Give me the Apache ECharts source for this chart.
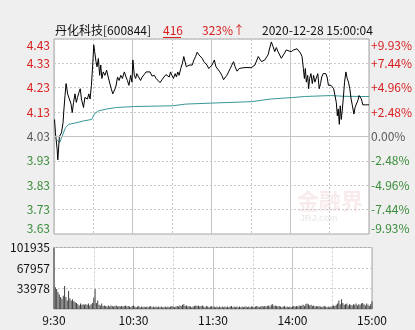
<!DOCTYPE html>
<html>
<head>
<meta charset="utf-8">
<script src="https://cdn.jsdelivr.net/npm/echarts@6/dist/echarts.min.js"></script>
<style>
html,body{margin:0;padding:0;background:#efefef;}
#c{width:415px;height:330px;}
</style>
</head>
<body>
<div id="c"></div>
<script>
// ---- data ----
const title = '丹化科技[600844]';
const lastPriceText = '416';
const changeText = '323%↑';
const timeText = '2020-12-28 15:00:04';
const prevClose = 4.03;
const priceTicks = [3.63, 3.73, 3.83, 3.93, 4.03, 4.13, 4.23, 4.33, 4.43];
const timeLabels = {0: '9:30', 60: '10:30', 120: '11:30', 180: '14:00', 240: '15:00'};
const volMax = 101935;

// minute offsets (from 9:30) and prices of the price line
const priceMinutes = [0.4,1.1,2.4,2.9,4.1,4.9,5.7,6.9,7.4,8.4,9.2,10.4,11.7,13.0,13.9,14.9,16.0,17.0,17.9,19.0,20.0,20.9,22.5,23.5,24.5,25.5,26.5,27.5,28.5,29.5,30.3,31.0,32.0,32.8,33.8,34.8,35.6,36.5,37.5,38.8,40.1,41.3,42.6,43.6,44.8,45.8,47.1,48.4,49.6,50.9,52.1,53.6,54.9,55.9,57.1,58.4,59.4,60.1,61.2,62.2,63.1,64.6,65.9,67.2,68.7,70.2,71.7,73.2,74.7,76.5,77.8,79.3,80.8,82.3,83.8,85.3,86.8,87.8,88.8,89.8,91.0,92.3,93.3,94.3,95.3,96.6,97.8,98.9,99.8,100.8,101.9,102.9,104.1,105.3,106.6,107.9,109.1,110.4,111.7,112.9,114.2,115.4,116.6,117.9,119.2,120.4,122.2,123.4,124.9,126.4,127.9,129.2,130.5,131.7,133.0,134.3,135.5,136.8,138.0,139.5,141.1,142.6,144.1,145.6,147.1,148.6,150.1,151.6,153.1,154.6,155.6,156.9,158.1,159.4,160.6,161.9,163.1,164.4,165.6,166.9,168.2,169.4,170.7,171.9,173.2,174.4,175.7,176.9,178.2,180.7,182.5,183.7,185.2,186.5,187.8,189.0,190.0,190.8,191.5,192.3,193.3,194.0,194.8,195.8,196.8,197.8,198.8,200.1,201.0,202.1,203.1,204.0,205.1,206.1,207.1,208.1,209.1,210.1,211.1,212.1,213.1,214.1,215.1,215.9,216.6,217.4,218.1,218.9,219.6,220.4,221.4,222.4,223.4,224.4,225.4,226.4,227.4,228.5,229.4,230.4,231.5,232.5,233.2,234.2,235.3,237.3,239.0,240];
const prices = [4.100,4.045,3.977,3.934,4.030,4.024,4.045,4.087,4.130,4.198,4.247,4.205,4.210,4.163,4.128,4.170,4.205,4.170,4.190,4.210,4.226,4.184,4.149,4.190,4.198,4.184,4.205,4.184,4.240,4.323,4.406,4.378,4.337,4.316,4.350,4.281,4.323,4.268,4.295,4.281,4.302,4.274,4.281,4.226,4.205,4.198,4.233,4.274,4.260,4.281,4.268,4.295,4.274,4.260,4.240,4.281,4.253,4.344,4.281,4.268,4.288,4.281,4.260,4.274,4.284,4.295,4.288,4.295,4.278,4.281,4.268,4.260,4.251,4.263,4.274,4.284,4.288,4.274,4.295,4.281,4.268,4.288,4.274,4.295,4.281,4.309,4.330,4.358,4.351,4.316,4.309,4.323,4.316,4.323,4.344,4.358,4.376,4.365,4.372,4.351,4.337,4.330,4.323,4.309,4.316,4.323,4.344,4.316,4.309,4.295,4.281,4.263,4.260,4.281,4.295,4.309,4.323,4.337,4.316,4.298,4.309,4.309,4.312,4.316,4.313,4.319,4.312,4.320,4.323,4.330,4.358,4.351,4.337,4.330,4.344,4.351,4.365,4.393,4.418,4.399,4.378,4.395,4.378,4.385,4.351,4.358,4.372,4.385,4.378,4.378,4.385,4.381,4.390,4.381,4.372,4.358,4.309,4.268,4.309,4.253,4.281,4.226,4.268,4.288,4.247,4.281,4.253,4.274,4.288,4.226,4.247,4.274,4.288,4.281,4.288,4.274,4.240,4.247,4.240,4.233,4.226,4.198,4.170,4.115,4.143,4.080,4.156,4.100,4.135,4.184,4.253,4.295,4.268,4.253,4.226,4.184,4.156,4.122,4.149,4.163,4.177,4.198,4.205,4.184,4.160,4.160,4.160,4.160];

// average price line
const avgMinutes = [2.4,2.9,4.4,6.2,8.7,11.2,17.5,22.5,28.8,30.7,33.8,40.1,47.6,61.4,90.3,100.4,120.2,150.5,165.4,182.0,190.8,210.8,220.9,238.5,240];
const avgPrices = [4.015,4.010,4.006,4.031,4.066,4.080,4.087,4.094,4.100,4.122,4.135,4.143,4.149,4.153,4.156,4.163,4.167,4.173,4.184,4.190,4.194,4.198,4.195,4.194,4.194];

// volume per minute (index = minutes from 9:30)
const volumes = [
101935,36000,33000,28000,24000,20000,17000,22000,38000,20000,
14000,30000,18000,14000,16000,13000,11000,10000,8000,6000,
9000,7000,8000,7000,8000,7000,9000,6000,8000,10000,
19000,33000,10000,14000,7000,6000,9000,5000,6000,5000,
4000,6000,4000,6000,5000,4000,5000,6000,4000,5000,
4000,5000,4000,5000,6000,4000,5000,4000,3000,5000,
6000,4000,3000,4000,5000,3000,4000,3000,4000,3000,
4000,3000,4000,5000,3000,4000,3000,4000,3000,4000,
3000,4000,3000,3000,4000,3000,4000,3000,4000,5000,
4000,3000,4000,5000,4000,6000,5000,7000,8000,5000,
6000,4000,5000,4000,3000,4000,5000,6000,5000,6000,
4000,5000,6000,4000,3000,5000,4000,3000,4000,5000,
3000,4000,3000,4000,3000,4000,3000,4000,3000,4000,
3000,4000,3000,4000,5000,3000,4000,3000,4000,3000,
4000,3000,4000,3000,4000,4000,3000,4000,3000,4000,
4000,3000,4000,5000,4000,3000,4000,5000,4000,5000,
4000,5000,6000,4000,7000,8000,5000,6000,5000,4000,
5000,4000,3000,4000,5000,3000,4000,3000,4000,3000,
4000,5000,4000,5000,4000,6000,5000,6000,7000,5000,
8000,9000,8000,6000,7000,5000,6000,4000,5000,4000,
5000,4000,3000,4000,5000,4000,3000,4000,3000,4000,
5000,6000,5000,7000,9000,14000,8000,16000,10000,7000,
8000,9000,6000,8000,7000,6000,8000,7000,9000,6000,
8000,7000,9000,10000,8000,6000,9000,7000,5000,8000,
13000];

// ---- chart ----
const RED = '#d81e1e', GREEN = '#3b8c3b', GRAY = '#5a5a5a';
const NUMFONT = '"Noto Sans CJK SC", "Liberation Sans", sans-serif';
const priceData = priceMinutes.map((m, i) => [m, prices[i]]);
const avgData = avgMinutes.map((m, i) => [m, avgPrices[i]]);
const volData = volumes.map((v, i) => [i, v]);

function labelColor(v) {
  if (v > prevClose + 0.005) return RED;
  if (v < prevClose - 0.005) return GREEN;
  return GRAY;
}
const dashed = {color: '#c9c9c9', type: [2, 2], width: 1};
const solid = {color: '#c4c4c4', type: 'solid', width: 1};

const chart = echarts.init(document.getElementById('c'), null, {renderer: 'canvas'});
chart.setOption({
  animation: false,
  backgroundColor: '#efefef',
  grid: [
    {left: 54, top: 39, width: 318, height: 195, show: true, backgroundColor: '#ffffff', borderColor: '#a9a9a9', borderWidth: 1},
    {left: 54, top: 247.5, width: 318, height: 61.5, show: true, backgroundColor: '#ffffff', borderColor: '#a9a9a9', borderWidth: 1}
  ],
  xAxis: [
    {gridIndex: 0, type: 'value', min: 0, max: 240, interval: 30, position: 'top',
     axisLine: {show: false}, axisTick: {show: false}, axisLabel: {show: false}, splitLine: {show: true, lineStyle: dashed}},
    {gridIndex: 0, type: 'value', min: 0, max: 240, interval: 60, position: 'bottom',
     axisLine: {show: false}, axisTick: {show: false}, axisLabel: {show: false}, splitLine: {show: true, lineStyle: solid}},
    {gridIndex: 1, type: 'value', min: 0, max: 240, interval: 30, position: 'top',
     axisLine: {show: false}, axisTick: {show: false}, axisLabel: {show: false}, splitLine: {show: true, lineStyle: dashed}},
    {gridIndex: 1, type: 'value', min: 0, max: 240, interval: 60, position: 'bottom',
     axisLine: {show: false}, axisTick: {show: false},
     axisLabel: {show: true, margin: 5, color: '#111', fontSize: 12, fontFamily: NUMFONT,
                 formatter: v => timeLabels[Math.round(v)] || ''},
     splitLine: {show: true, lineStyle: solid}}
  ],
  yAxis: [
    {gridIndex: 0, type: 'value', min: priceTicks[0], max: priceTicks[priceTicks.length - 1], interval: 0.1, position: 'left',
     axisLine: {show: false}, axisTick: {show: false},
     axisLabel: {margin: 4, fontSize: 12, fontFamily: NUMFONT, color: labelColor,
                 formatter: v => v.toFixed(2), verticalAlignMaxLabel: 'top', verticalAlignMinLabel: 'bottom'},
     splitLine: {show: true, lineStyle: dashed}},
    {gridIndex: 0, type: 'value', min: priceTicks[0], max: priceTicks[priceTicks.length - 1], interval: 0.1, position: 'right',
     axisLine: {show: false}, axisTick: {show: false},
     axisLabel: {margin: 2, fontSize: 12, fontFamily: NUMFONT, color: labelColor,
                 verticalAlignMaxLabel: 'top', verticalAlignMinLabel: 'bottom',
                 formatter: v => {
                   const p = (v - prevClose) / prevClose * 100;
                   if (Math.abs(p) < 0.005) return '0.00%';
                   return (p > 0 ? '+' : '') + p.toFixed(2) + '%';
                 }},
     splitLine: {show: false}},
    {gridIndex: 1, type: 'value', min: 0, max: volMax, interval: volMax / 3, position: 'left',
     axisLine: {show: false}, axisTick: {show: false},
     axisLabel: {margin: 4, fontSize: 12, fontFamily: NUMFONT, color: '#111',
                 formatter: v => v < 1 ? '' : String(Math.round(v))},
     splitLine: {show: true, lineStyle: dashed}}
  ],
  series: [
    {type: 'line', xAxisIndex: 1, yAxisIndex: 0, data: avgData, showSymbol: false, symbol: 'none',
     lineStyle: {color: '#3a9797', width: 1}, z: 3,
     markLine: {silent: true, symbol: 'none', label: {show: false}, animation: false,
                lineStyle: {color: '#c4c4c4', type: 'solid', width: 1}, data: [{yAxis: prevClose}]}},
    {type: 'line', xAxisIndex: 1, yAxisIndex: 0, data: priceData, showSymbol: false, symbol: 'none',
     lineStyle: {color: '#000000', width: 1}, z: 4},
    {type: 'bar', xAxisIndex: 3, yAxisIndex: 2, data: volData, barWidth: 1,
     itemStyle: {color: '#404040'}}
  ],
  graphic: [
    {type: 'text', left: 55, top: 24, style: {text: title, fill: '#111', font: '12px "Noto Sans CJK SC", sans-serif'}},
    {type: 'text', left: 163, top: 24, style: {text: lastPriceText, fill: RED, font: '12px ' + NUMFONT}},
    {type: 'line', shape: {x1: 163, y1: 37.5, x2: 181, y2: 37.5}, style: {stroke: RED, lineWidth: 1}},
    {type: 'text', left: 202, top: 24, style: {text: changeText, fill: RED, font: '12px ' + NUMFONT}},
    {type: 'text', left: 262, top: 24, style: {text: timeText, fill: '#111', font: '12px ' + NUMFONT}},
    {type: 'text', left: 297, top: 190, style: {text: '金融界', fill: 'rgba(200,90,90,0.12)', font: 'bold 22px "Noto Sans CJK SC", sans-serif'}},
    {type: 'text', left: 300, top: 214, style: {text: 'JRJ.com', fill: 'rgba(120,120,120,0.14)', font: 'bold 9px "Liberation Sans", sans-serif'}}
  ]
});
</script>
</body>
</html>
